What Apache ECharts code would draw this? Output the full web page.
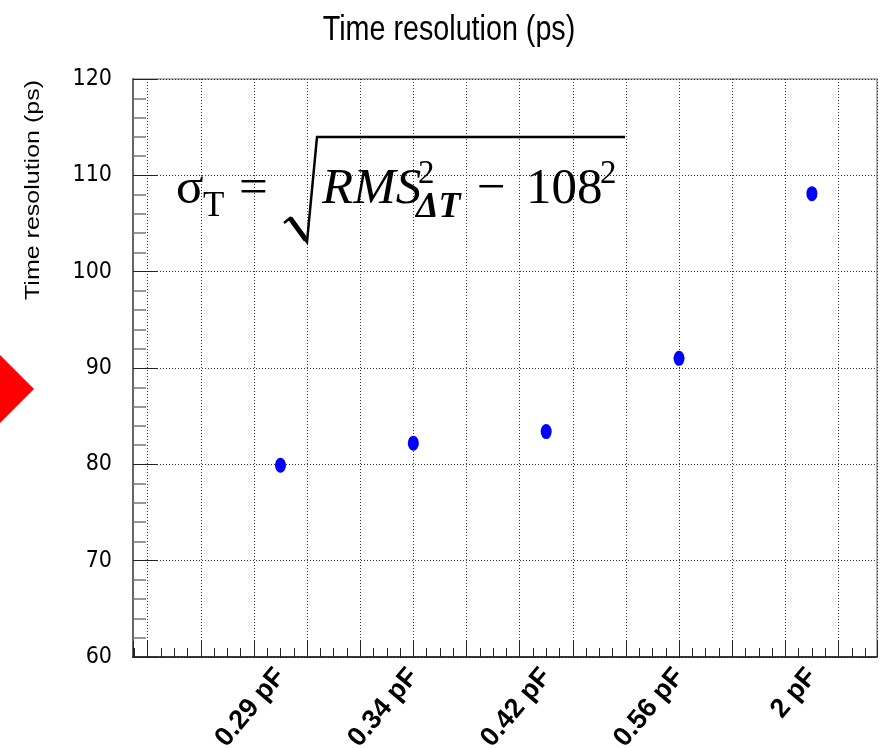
<!DOCTYPE html>
<html>
<head>
<meta charset="utf-8">
<script src="https://cdn.jsdelivr.net/npm/echarts@6/dist/echarts.min.js"></script>
<style>
  html, body { margin: 0; padding: 0; background: #fff; }
  #main { width: 881px; height: 748px; }
</style>
</head>
<body>
<div id="main"></div>
<script>
// capacitance points, drawn on a value axis so the 0.4 grid lines fall where ROOT put them
const categories = ['0.29 pF', '0.34 pF', '0.42 pF', '0.56 pF', '2 pF'];
const positions = [1, 2, 3, 4, 5];
const resolution = [79.9, 82.2, 83.4, 91.0, 108.1];

const sans = "'Liberation Sans', Arial, sans-serif";
const narrow = "'DejaVu Sans Condensed', 'Liberation Sans', sans-serif";
const serif = "'Liberation Serif', 'DejaVu Serif', serif";
const dotted = { color: '#333', width: 1, type: [1, 2] };

// formula pieces: sigma_T = sqrt(RMS^2_dT - 108^2)
function txt(text, x, y, size, extra) {
  return {
    type: 'text', x: x, y: y, z: 10,
    style: Object.assign({
      text: text, fontSize: size, fontFamily: serif, fill: '#000',
      align: 'left', verticalAlign: 'middle'
    }, extra || {})
  };
}

const chart = echarts.init(document.getElementById('main'));

const option = {
  backgroundColor: '#fff',
  animation: false,
  grid: {
    left: 133, top: 79, right: 4, bottom: 91,
    show: true, borderColor: '#999', borderWidth: 1.5,
    containLabel: false, outerBoundsMode: 'none'
  },
  xAxis: {
    type: 'value',
    min: -0.11, max: 5.49,
    minInterval: 0.4, maxInterval: 0.4, splitNumber: 14,
    axisLine: { show: true, onZero: false, lineStyle: { color: '#111', width: 1.5 } },
    axisTick: { show: true, inside: true, length: 16, lineStyle: { color: '#222' } },
    minorTick: { show: true, splitNumber: 4, length: 9, lineStyle: { color: '#222' } },
    splitLine: { show: true, lineStyle: dotted },
    axisLabel: {
      customValues: positions,
      formatter: function (v) { return categories[positions.indexOf(v)] || ''; },
      rotate: 50, margin: 15,
      fontSize: 27, fontWeight: 'bold', fontFamily: sans, color: '#000'
    }
  },
  yAxis: {
    type: 'value',
    min: 60, max: 120, interval: 10,
    axisLine: { show: true, onZero: false, lineStyle: { color: '#666', width: 2 } },
    axisTick: { show: true, inside: true, length: 25, lineStyle: { color: '#222' } },
    minorTick: { show: true, splitNumber: 5, length: 13, lineStyle: { color: '#777', width: 1.5 } },
    splitLine: { show: true, lineStyle: dotted },
    axisLabel: { fontSize: 23, margin: 21, fontFamily: narrow, color: '#000' }
  },
  series: [{
    type: 'scatter',
    symbol: 'circle',
    symbolSize: [11, 15],
    itemStyle: { color: '#0000ff', opacity: 1 },
    data: positions.map(function (p, i) { return [p, resolution[i]]; })
  }],
  graphic: [
    {
      type: 'text', x: 449, y: 30, scaleX: 0.82,
      style: {
        text: 'Time resolution (ps)', fontSize: 35, fontFamily: sans,
        fill: '#000', align: 'center', verticalAlign: 'middle'
      }
    },
    {
      type: 'text', x: 33, y: 190, rotation: Math.PI / 2, scaleY: 0.82,
      style: {
        text: 'Time resolution (ps)', fontSize: 25, fontFamily: sans,
        fill: '#000', align: 'center', verticalAlign: 'middle'
      }
    },
    {
      type: 'polygon',
      shape: { points: [[-34, 389], [0, 355], [34, 389], [0, 423]] },
      style: { fill: '#ff0000' }
    },
    txt('σ', 176, 189.5, 51),
    txt('T', 203, 206.5, 35),
    txt('=', 239, 189.5, 51),
    {
      type: 'polyline', z: 10,
      shape: { points: [[284, 223], [290, 218], [307, 242], [317, 137], [625, 137]] },
      style: { stroke: '#000', lineWidth: 2.5, fill: null }
    },
    {
      type: 'polyline', z: 10,
      shape: { points: [[290, 218], [306, 240]] },
      style: { stroke: '#000', lineWidth: 5, fill: null }
    },
    txt('RMS', 322, 189.5, 51, { fontStyle: 'italic' }),
    txt('2', 418, 174, 33),
    txt('ΔT', 416, 207.8, 36, { fontStyle: 'italic', fontWeight: 'bold' }),
    txt('−', 477, 189.5, 51),
    txt('108', 526, 189.5, 51),
    txt('2', 600, 174, 33)
  ]
};

chart.setOption(option);
</script>
</body>
</html>
